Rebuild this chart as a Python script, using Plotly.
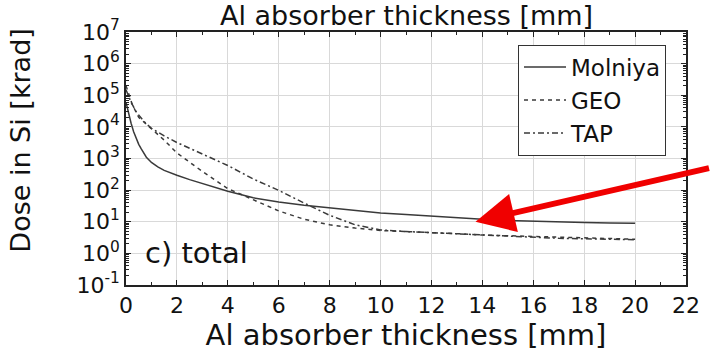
import plotly.graph_objects as go

# ---- data ----
x_molniya = [0, 0.05, 0.1, 0.2, 0.3, 0.4, 0.5, 0.6, 0.8, 1, 1.25, 1.5, 1.75, 2, 2.5, 3, 4, 5, 6, 7, 8, 9, 10, 11, 12, 13, 14, 15, 16, 17, 18, 19, 20]
dose_molniya = [6e4, 4e4, 2.5e4, 1.3e4, 7e3, 4.3e3, 2.8e3, 2.0e3, 1.1e3, 750, 540, 420, 350, 295, 215, 160, 92, 57, 42, 33, 27, 22, 19, 17, 15, 13.5, 12, 11, 10.3, 9.9, 9.5, 9.2, 9.0]

x_geo = [0, 0.25, 0.5, 1, 1.5, 2, 3, 4, 5, 6, 7, 8, 9, 10, 11, 12, 13, 14, 15, 16, 17, 18, 19, 20]
dose_geo = [2e5, 5e4, 2e4, 8.9e3, 3.8e3, 1.5e3, 390, 112, 49, 22, 12, 8.0, 6.3, 5.3, 4.9, 4.6, 4.2, 3.8, 3.6, 3.4, 3.2, 3.1, 2.9, 2.8]

x_tap = [0, 0.2, 0.4, 0.7, 1, 1.5, 2, 3, 4, 5, 6, 7, 8, 9, 10, 11, 12, 13, 14, 15, 16, 17, 18, 19, 20]
dose_tap = [1.5e5, 6e4, 3e4, 1.5e4, 9e3, 5.2e3, 3.2e3, 1.4e3, 600, 225, 98, 39, 16, 8, 5.5, 4.9, 4.5, 4.1, 3.7, 3.4, 3.2, 3.0, 2.9, 2.8, 2.7]

series_names = ["Molniya", "GEO", "TAP"]
x_ticks = list(range(0, 23, 2))
y_exponents = [-1, 0, 1, 2, 3, 4, 5, 6, 7]
y_tick_labels = ["10<sup>%d</sup>" % e for e in y_exponents]
x_title = "Al absorber thickness [mm]"
y_title = "Dose in Si [krad]"
panel_label = "c) total"

FONT = "DejaVu Sans"
LINE = "#3a3a3a"

fig = go.Figure()
fig.add_trace(go.Scatter(x=x_molniya, y=dose_molniya, mode="lines", name=series_names[0],
                         line=dict(color=LINE, width=1.5, dash="solid")))
fig.add_trace(go.Scatter(x=x_geo, y=dose_geo, mode="lines", name=series_names[1],
                         line=dict(color=LINE, width=1.5, dash="4px,4px")))
fig.add_trace(go.Scatter(x=x_tap, y=dose_tap, mode="lines", name=series_names[2],
                         line=dict(color=LINE, width=1.5, dash="6px,3px,2px,3px")))

minor_y = [m * 10 ** e for e in range(-1, 7) for m in range(2, 10)]

fig.update_layout(
    width=712, height=354,
    margin=dict(l=126, r=16, t=32, b=69),
    paper_bgcolor="white", plot_bgcolor="white",
    font=dict(family=FONT, color="#111", size=22),
    showlegend=True,
    legend=dict(x=0.70, y=0.95, xanchor="left", yanchor="top",
                bgcolor="white", bordercolor="#333", borderwidth=1,
                font=dict(family=FONT, size=23, color="#111"),
                tracegroupgap=0, itemwidth=42),
    xaxis=dict(range=[0, 22], tickmode="array", tickvals=x_ticks,
               showgrid=True, gridcolor="#d9d9d9", gridwidth=1,
               showline=True, linecolor="#222", linewidth=1.5, mirror="ticks",
               ticks="inside", ticklen=5, tickcolor="#222",
               tickfont=dict(family=FONT, size=22),
               minor=dict(dtick=1, ticks="inside", ticklen=3, tickcolor="#222", showgrid=False),
               zeroline=False,
               title=dict(text=x_title, font=dict(family=FONT, size=29), standoff=4)),
    yaxis=dict(type="log", range=[-1, 7], tickmode="array",
               tickvals=[10 ** e for e in y_exponents], ticktext=y_tick_labels,
               showgrid=True, gridcolor="#d9d9d9", gridwidth=1,
               showline=True, linecolor="#222", linewidth=1.5, mirror="ticks",
               ticks="inside", ticklen=5, tickcolor="#222",
               tickfont=dict(family=FONT, size=22),
               minor=dict(tickmode="array", tickvals=minor_y, ticks="inside", ticklen=3,
                          tickcolor="#222", showgrid=False),
               zeroline=False),
)

# y-axis title (placed slightly above centre, as in the reference)
fig.add_annotation(text=y_title, xref="paper", yref="paper", x=-0.19, y=0.569,
                   xanchor="center", yanchor="middle", textangle=-90, showarrow=False,
                   font=dict(family=FONT, size=27, color="#111"))
# top axis label (from the panel above, partly cut in the reference)
fig.add_annotation(text=x_title, xref="paper", yref="paper", x=0.5, y=1.0,
                   xanchor="center", yanchor="middle", yshift=17, showarrow=False,
                   font=dict(family=FONT, size=27, color="#111"))
fig.add_annotation(text=panel_label, xref="x", yref="y", x=0.65, y=0,
                   xanchor="left", yanchor="middle", showarrow=False,
                   font=dict(family=FONT, size=29, color="#111"))
# red arrow pointing at the Molniya curve
fig.add_annotation(x=13.73, y=1, xref="x", yref="y", text="",
                   showarrow=True, axref="pixel", ayref="pixel", ax=235, ay=-54,
                   arrowhead=2, arrowsize=1.3, arrowwidth=6, arrowcolor="#f00000")

fig.write_html("out.html")
